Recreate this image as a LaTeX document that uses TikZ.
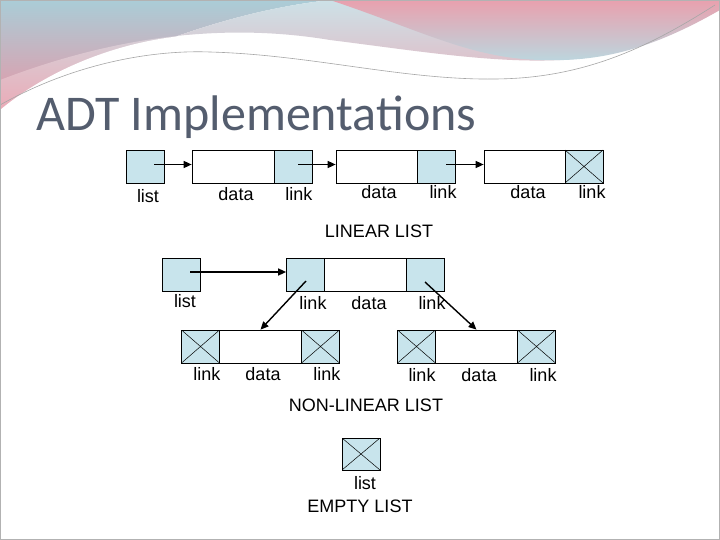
\documentclass[tikz,border=0pt]{standalone}
\usepackage{fontspec}
\setmainfont{Liberation Sans}
\newfontfamily\titlefont{Carlito}
\usetikzlibrary{arrows.meta}
\definecolor{cellblue}{RGB}{200,228,236}
\definecolor{titlecol}{RGB}{84,93,110}
\definecolor{wavepink}{RGB}{230,150,165}
\definecolor{waveblue}{RGB}{170,205,215}
\tikzset{
  cell/.style={draw=black,fill=cellblue,minimum width=38pt,minimum height=33pt,inner sep=0pt,line width=0.7pt},
  xcell/.style={cell,path picture={\draw[line width=0.5pt] (path picture bounding box.north west)--(path picture bounding box.south east) (path picture bounding box.north east)--(path picture bounding box.south west);}},
  dcell/.style={draw=black,fill=white,minimum width=82pt,minimum height=33pt,inner sep=0pt,line width=0.7pt},
  lbl/.style={font=\fontsize{18}{20}\selectfont,inner sep=0pt},
  arr/.style={-{Triangle[length=8pt,width=7pt]},line width=1.4pt}
}
\begin{document}
\begin{tikzpicture}[x=1pt,y=-1pt]
\useasboundingbox (0,0) rectangle (720,540);
\fill[white] (0,0) rectangle (720,540);
% header waves
\shade[top color=waveblue,bottom color=wavepink] (0,0) -- (330,0) .. controls (240,10) and (150,40) .. (0,110) -- cycle;
\shade[top color=waveblue!60!white,bottom color=wavepink!80!white] (330,0) .. controls (240,10) and (150,40) .. (0,110) -- (0,80) .. controls (130,30) and (240,25) .. (330,40) .. controls (450,55) and (560,75) .. (640,45) -- (720,0) -- cycle;
\fill[white] (0,110) .. controls (60,60) and (150,30) .. (230,35) .. controls (330,38) and (430,70) .. (510,68) .. controls (600,65) and (660,40) .. (720,15) -- (720,540) -- (0,540) -- cycle;
\shade[top color=wavepink!90!white,bottom color=waveblue!80!white] (330,0) -- (720,0) -- (720,10) .. controls (650,50) and (600,62) .. (540,60) .. controls (470,58) and (420,30) .. (330,0) -- cycle;
\draw[gray!70,line width=0.6pt] (0,105) .. controls (80,60) and (160,50) .. (210,52) .. controls (320,55) and (420,85) .. (520,78) .. controls (600,72) and (660,40) .. (715,5);
\draw[gray!60,line width=0.8pt] (0.5,0.5) rectangle (719.5,539.5);
% title
\node[anchor=base west,inner sep=0pt,text=titlecol,font=\titlefont\fontsize{50}{54}\selectfont] (title) at (36,131) {ADT Implementations};
% linear list
\node[cell] (l0) at (145,166.5) {};
\node[dcell] (d1) at (233,166.5) {};
\node[cell] (k1) at (293,166.5) {};
\node[dcell] (d2) at (377,166.5) {};
\node[cell] (k2) at (436,166.5) {};
\node[dcell] (d3) at (525,166.5) {};
\node[xcell] (k3) at (584,166.5) {};
\draw[arr] (l0.center) ++(9,-2) -- (d1.west |- 0,164.5);
\draw[arr] (k1.center) ++(5,-2) -- (d2.west |- 0,164.5);
\draw[arr] (k2.center) ++(10,-2) -- (d3.west |- 0,164.5);
\node[lbl] (t1) at (148,196) {list};
\node[lbl] (t2) at (236,194) {data};
\node[lbl] (t3) at (299,194) {link};
\node[lbl] (t4) at (379,192) {data};
\node[lbl] (t5) at (443,192) {link};
\node[lbl] (t6) at (528,192) {data};
\node[lbl] (t7) at (592,192) {link};
\node[lbl] (lin) at (379,231) {LINEAR LIST};
% non-linear list
\node[cell] (m0) at (181,274.5) {};
\node[cell] (mk1) at (305.5,274.5) {};
\node[dcell] (md) at (365.5,274.5) {};
\node[cell] (mk2) at (425.5,274.5) {};
\coordinate (a0) at (190,272);
\coordinate (a1) at (306,281);
\coordinate (a2) at (425,282);
\draw[arr] (a0) -- (mk1.west |- a0);
\node[lbl] (u1) at (185,301) {list};
\node[lbl] (u2) at (313,303) {link};
\node[lbl] (u3) at (369,303) {data};
\node[lbl] (u4) at (432,303) {link};
\node[xcell] (bl1) at (200.5,346.5) {};
\node[dcell] (bld) at (260.5,346.5) {};
\node[xcell] (bl2) at (320.5,346.5) {};
\node[xcell] (br1) at (416.5,346.5) {};
\node[dcell] (brd) at (476.5,346.5) {};
\node[xcell] (br2) at (536.5,346.5) {};
\draw[arr] (a1) -- (bld.north);
\draw[arr] (a2) -- (brd.north);
\node[lbl] (v1) at (207,374) {link};
\node[lbl] (v2) at (263,374) {data};
\node[lbl] (v3) at (327,374) {link};
\node[lbl] (v4) at (422,375) {link};
\node[lbl] (v5) at (479,375) {data};
\node[lbl] (v6) at (543,375) {link};
\node[lbl] (nl) at (366,405) {NON-LINEAR LIST};
% empty
\node[xcell,minimum height=32pt] (e0) at (361,454) {};
\node[lbl] (e1) at (365,483) {list};
\node[lbl] (e2) at (360,506) {EMPTY LIST};
\end{tikzpicture}
\end{document}
